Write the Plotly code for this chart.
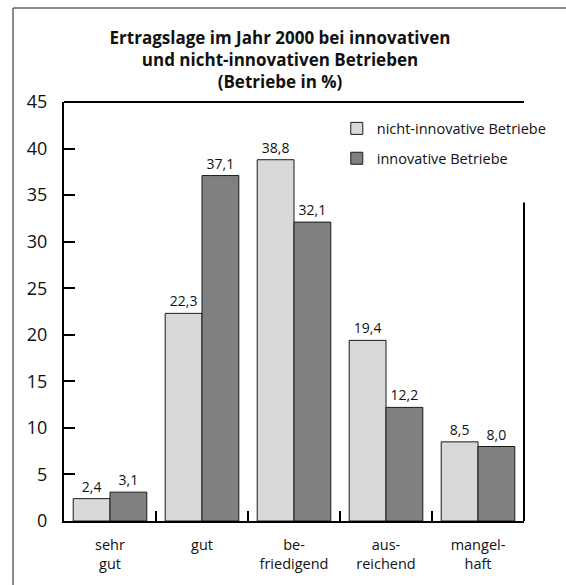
import plotly.graph_objects as go

categories = ["sehr<br>gut", "gut", "be-<br>friedigend", "aus-<br>reichend", "mangel-<br>haft"]
nicht_innovativ = [2.4, 22.3, 38.8, 19.4, 8.5]
innovativ = [3.1, 37.1, 32.1, 12.2, 8.0]
series_names = ["nicht-innovative Betriebe", "innovative Betriebe"]
y_ticks = [0, 5, 10, 15, 20, 25, 30, 35, 40, 45]

FONT = "Open Sans"

fig = go.Figure()
fig.add_trace(go.Bar(
    x=categories, y=nicht_innovativ, name=series_names[0],
    marker=dict(color="#d9d9d9", line=dict(color="#1a1a1a", width=1)),
    texttemplate="%{y:.1f}", textposition="outside",
    textfont=dict(size=14, color="#111", family=FONT),
    cliponaxis=False, legendgroup="a",
))
fig.add_trace(go.Bar(
    x=categories, y=innovativ, name=series_names[1],
    marker=dict(color="#808080", line=dict(color="#1a1a1a", width=1)),
    texttemplate="%{y:.1f}", textposition="outside",
    textfont=dict(size=14, color="#111", family=FONT),
    cliponaxis=False, legendgroup="b",
))

fx0 = (13 - 64) / 460
fy1 = (526 - 7) / 424

fig.update_layout(
    width=566, height=585,
    margin=dict(l=64, r=42, t=102, b=59),
    paper_bgcolor="white", plot_bgcolor="white",
    separators=",.",
    barmode="group", bargap=0.2, bargroupgap=0,
    font=dict(family=FONT, color="#111"),
    title=dict(
        text="<b>Ertragslage im Jahr 2000 bei innovativen<br>und nicht-innovativen Betrieben<br>(Betriebe in %)</b>",
        x=0.4947, xref="container", xanchor="center",
        y=1 - 44 / 585, yref="container", yanchor="middle",
        font=dict(size=17, family=FONT, color="#111"),
    ),
    legend=dict(
        x=0.593, y=0.975, xanchor="left", yanchor="top",
        font=dict(size=14.5, family=FONT, color="#111"),
        bgcolor="rgba(0,0,0,0)", tracegroupgap=8,
        itemwidth=30,
    ),
    xaxis=dict(
        showline=True, linecolor="black", linewidth=2,
        ticks="inside", ticklen=10, tickwidth=2, tickcolor="black",
        tickson="boundaries", showgrid=False,
        tickfont=dict(size=14.5, family=FONT, color="#111"),
        ticklabelstandoff=10,
    ),
    yaxis=dict(
        range=[0, 45], tickvals=y_ticks,
        showline=True, linecolor="black", linewidth=2,
        ticks="inside", ticklen=11, tickwidth=2, tickcolor="black",
        showgrid=False, zeroline=False,
        tickfont=dict(size=18, family=FONT, color="#111"),
        ticklabelstandoff=11,
    ),
    shapes=[
        # top border line of plot at y=45
        dict(type="line", xref="paper", yref="paper", x0=0, x1=1, y0=1, y1=1,
             line=dict(color="black", width=2)),
        # partial right border line
        dict(type="line", xref="paper", yref="y", x0=1, x1=1, y0=0, y1=34.2,
             line=dict(color="black", width=2)),
        # outer frame: left and top edges
        dict(type="line", xref="paper", yref="paper",
             x0=fx0, x1=fx0, y0=-0.3, y1=fy1,
             line=dict(color="#666666", width=1.5), layer="above"),
        dict(type="line", xref="paper", yref="paper",
             x0=fx0, x1=1.2, y0=fy1, y1=fy1,
             line=dict(color="#666666", width=1.5), layer="above"),
    ],
)

fig.write_html("out.html", config={"displayModeBar": False},
               post_script="document.body.style.margin='0';document.body.style.overflow='hidden';")
